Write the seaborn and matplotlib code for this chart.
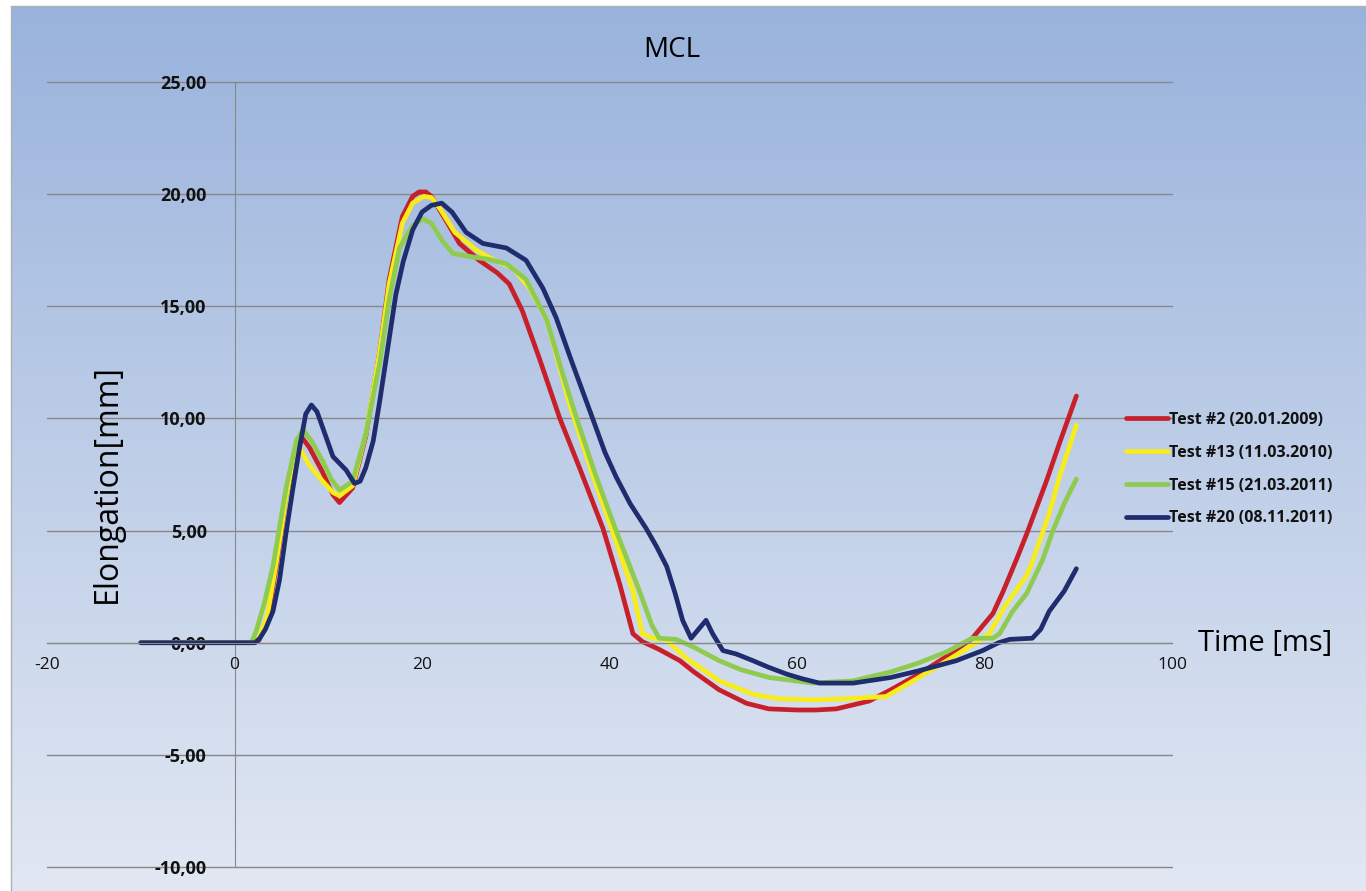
import numpy as np
import pandas as pd
import matplotlib
matplotlib.use("Agg")
import matplotlib.pyplot as plt
import seaborn as sns
from matplotlib.ticker import FuncFormatter

# ---- data ----
series_names = ["Test #2 (20.01.2009)", "Test #13 (11.03.2010)",
                "Test #15 (21.03.2011)", "Test #20 (08.11.2011)"]
series_colors = ["#c8202a", "#f7ec1c", "#8fcb4f", "#1f2d6e"]

t_test2 = [-10, 0, 2, 2.6, 3.5, 4.5, 5.5, 6.5, 7.1, 8, 9.4, 10.5, 11.2, 12.6, 14,
           15.5, 16.5, 17.9, 19, 19.7, 20.4, 21, 22.6, 24, 26.1, 28, 29.3, 30.7, 32.5,
           34.7, 36.8, 39.3, 41.1, 42.5, 43.5, 45.3, 47.5, 49, 51.7, 54.6, 57, 60,
           62, 64.2, 67.7, 70, 73, 76, 78.7, 80.9, 82, 83.4, 84.5, 86.6, 88, 89.8]
y_test2 = [0, 0, 0, 0.1, 1.0, 3.5, 6.5, 8.6, 9.2, 8.7, 7.6, 6.6, 6.25, 6.9, 9.2,
           13.0, 16.2, 19.0, 19.9, 20.1, 20.1, 19.9, 18.8, 17.8, 17.05, 16.5, 16.0, 14.8,
           12.7, 10.0, 7.8, 5.1, 2.6, 0.4, 0.05, -0.3, -0.8, -1.3, -2.1, -2.7, -2.95,
           -3.0, -3.0, -2.95, -2.6, -2.1, -1.4, -0.6, 0.2, 1.3, 2.3, 3.7, 4.85, 7.2,
           8.9, 11.0]

t_test13 = [-10, 0, 2, 2.6, 3.5, 4.5, 5.5, 6.3, 6.9, 8, 9.4, 10.5, 11.2, 12.6, 14,
            15.5, 16.5, 17.9, 19, 20.2, 21, 22, 23.5, 25.8, 27.5, 29.7, 31.5, 33.3, 35.7,
            38.2, 40.3, 42.5, 43.5, 44.6, 46, 48.2, 50, 51.7, 55.3, 58, 62, 65, 69.5,
            73, 76, 79.5, 80.5, 82.3, 84.5, 85.1, 86.9, 88, 89.8]
y_test13 = [0, 0, 0, 0.2, 1.2, 3.7, 6.5, 8.3, 8.7, 7.9, 7.2, 6.7, 6.55, 7.0, 9.3,
            13.0, 16.0, 18.7, 19.6, 19.9, 19.85, 19.3, 18.3, 17.5, 17.1, 16.7, 15.8, 14.4,
            10.7, 7.5, 5.0, 2.3, 0.4, 0.2, 0.15, -0.7, -1.2, -1.7, -2.3, -2.5, -2.55,
            -2.5, -2.4, -1.55, -0.8, 0.1, 0.4, 1.7, 3.0, 3.6, 5.75, 7.4, 9.7]

t_test15 = [-10, 0, 1.8, 2.3, 3.2, 4.1, 5.5, 6.6, 7.3, 8.2, 9.4, 10.3, 11.2, 12.6,
            14, 15.5, 16.5, 17.6, 19, 20.1, 21, 22.2, 23.3, 25.4, 27, 29, 31.1, 33.3, 35,
            36.5, 38.5, 40.7, 43.2, 44.5, 45.3, 47.1, 49, 51.7, 54, 57, 61.7, 66, 70,
            73, 76, 78.7, 80.9, 81.6, 83, 84.5, 86.2, 87.3, 88.5, 89.8]
y_test15 = [0, 0, 0, 0.5, 1.8, 3.4, 6.9, 9.0, 9.5, 9.0, 8.1, 7.3, 6.8, 7.2, 9.3,
            12.5, 15.3, 17.6, 18.6, 18.9, 18.7, 17.9, 17.35, 17.2, 17.1, 16.9, 16.2, 14.4,
            12.0, 10.0, 7.5, 5.0, 2.3, 0.8, 0.2, 0.15, -0.2, -0.8, -1.2, -1.55, -1.8,
            -1.7, -1.3, -0.9, -0.4, 0.2, 0.2, 0.4, 1.4, 2.2, 3.7, 5.0, 6.2, 7.3]

t_test20 = [-10, 0, 2.2, 2.7, 3.3, 4.1, 4.8, 5.5, 6.2, 6.9, 7.6, 8.2, 8.8, 9.4, 10.5,
            11.9, 12.8, 13.4, 14, 14.8, 15.5, 16.3, 17.2, 18, 19, 20, 21, 22.1, 23.2,
            24.7, 26.5, 29, 31.1, 32.9, 34.3, 36, 38.2, 39.5, 40.7, 42.2, 43.9, 45,
            46.1, 47, 47.8, 48.7, 49.5, 50.3, 51, 52.1, 53.5, 55.3, 57, 58.9, 60.5,
            62.4, 66, 70, 73, 77, 79.8, 81.5, 82.7, 85.1, 86, 86.9, 88.5, 89.8]
y_test20 = [0, 0, 0, 0.2, 0.6, 1.4, 2.8, 4.9, 6.8, 8.6, 10.2, 10.6, 10.3, 9.6, 8.3,
            7.7, 7.1, 7.2, 7.8, 9.0, 10.8, 13.0, 15.5, 17.0, 18.4, 19.2, 19.5, 19.6,
            19.2, 18.3, 17.8, 17.6, 17.05, 15.8, 14.5, 12.5, 10.0, 8.5, 7.4, 6.2, 5.1,
            4.3, 3.4, 2.2, 1.0, 0.2, 0.6, 1.0, 0.4, -0.35, -0.5, -0.8, -1.1, -1.4,
            -1.6, -1.8, -1.8, -1.55, -1.25, -0.8, -0.35, 0.0, 0.15, 0.2, 0.6, 1.4,
            2.3, 3.3]

x_ticks = [-20, 0, 20, 40, 60, 80, 100]
y_ticks = [-10, -5, 0, 5, 10, 15, 20, 25]

frames = []
for name, t, y in zip(series_names,
                      [t_test2, t_test13, t_test15, t_test20],
                      [y_test2, y_test13, y_test15, y_test20]):
    frames.append(pd.DataFrame({"Time": t, "Elongation": y, "Test": name}))
df = pd.concat(frames, ignore_index=True)

sns.set_style("white")
plt.rcParams["font.family"] = ["Open Sans", "DejaVu Sans"]
plt.rcParams["text.color"] = "#000000"

W, H = 1366, 891
fig = plt.figure(figsize=(W / 100, H / 100), dpi=100)
fig.patch.set_facecolor("white")

# gradient background like the Excel chart area
bg = fig.add_axes([11 / W, 0, 1 - 11 / W, 1 - 6 / H], zorder=-5)
grad = np.linspace(0, 1, 256).reshape(-1, 1)
top = np.array([0.600, 0.702, 0.863])
bottom = np.array([0.886, 0.910, 0.953])
img = top + (bottom - top) * grad[..., None] * np.ones((1, 2, 1))
bg.imshow(img, aspect="auto", extent=[0, 1, 0, 1], origin="upper")
bg.set_axis_off()
fig.add_artist(plt.Line2D([11 / W, 1], [1 - 6 / H, 1 - 6 / H], color="#b0b0b0", lw=1))
fig.add_artist(plt.Line2D([11 / W, 11 / W], [0, 1 - 6 / H], color="#b0b0b0", lw=1))

ax = fig.add_axes([47 / W, 1 - 867 / H, (1172 - 47) / W, (867 - 82) / H])
ax.set_facecolor("none")

sns.lineplot(data=df, x="Time", y="Elongation", hue="Test", palette=series_colors,
             hue_order=series_names, sort=False, estimator=None, linewidth=3.4,
             ax=ax, legend=True)
for line in ax.get_lines():
    line.set_solid_capstyle("round")
    line.set_solid_joinstyle("round")

ax.set_xlim(-20, 100)
ax.set_ylim(-10, 25)
ax.set_xticks(x_ticks)
ax.set_yticks(y_ticks)
ax.yaxis.set_major_formatter(FuncFormatter(lambda v, p: f"{v:.2f}".replace(".", ",")))
ax.xaxis.set_major_formatter(FuncFormatter(lambda v, p: f"{v:.0f}"))

for y in y_ticks:
    ax.axhline(y, color="#888888", lw=1, zorder=0, clip_on=False)

ax.spines["left"].set_position(("data", 0))
ax.spines["bottom"].set_position(("data", 0))
ax.spines["top"].set_visible(False)
ax.spines["right"].set_visible(False)
ax.spines["left"].set_color("#888888")
ax.spines["bottom"].set_color("#888888")
ax.spines["left"].set_zorder(0)
ax.tick_params(axis="x", direction="out", length=6, color="#888888", width=1,
               labelsize=12.5, pad=4, labelcolor="#111111")
ax.tick_params(axis="y", length=0, pad=20, labelsize=13, labelcolor="#111111")
for lab in ax.get_yticklabels():
    lab.set_fontweight("bold")

ax.set_xlabel("")
ax.set_ylabel("")
ax.text(0.054, 0.488, "Elongation[mm]", transform=ax.transAxes, rotation=90,
        ha="center", va="center", fontsize=23)
fig.text(1198 / W, 1 - 644 / H, "Time [ms]", ha="left", va="center", fontsize=21)
fig.text(672 / W, 1 - 50 / H, "MCL", ha="center", va="center", fontsize=20)

handles, labels = ax.get_legend_handles_labels()
ax.legend_.remove()
leg = fig.legend(handles, labels, loc="upper left", bbox_to_anchor=(1126 / W, 1 - 412 / H),
                 frameon=False, fontsize=11.5, handlelength=2.6, handletextpad=0.1,
                 labelspacing=1.05, borderpad=0, borderaxespad=0)
for txt in leg.get_texts():
    txt.set_fontweight("bold")
    txt.set_color("#111111")

fig.savefig("out.png", dpi=100)
